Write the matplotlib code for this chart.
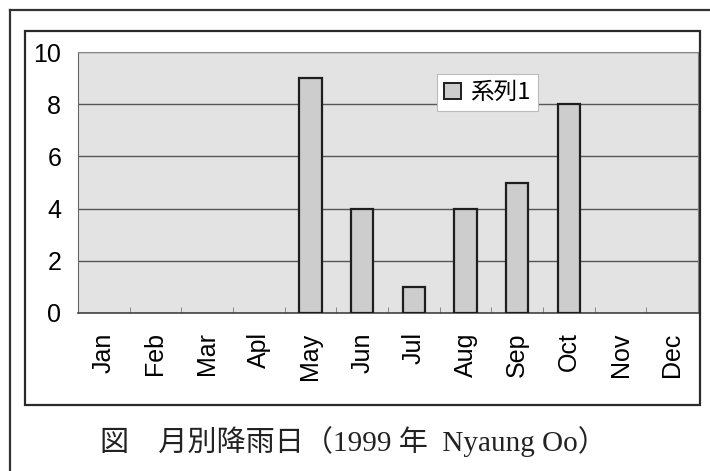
import matplotlib
matplotlib.use('Agg')
import matplotlib.pyplot as plt
from matplotlib.patches import Rectangle
from matplotlib.lines import Line2D
import numpy as np

months = ['Jan', 'Feb', 'Mar', 'Apl', 'May', 'Jun', 'Jul', 'Aug', 'Sep', 'Oct', 'Nov', 'Dec']
rain_days = [0, 0, 0, 0, 9, 4, 1, 4, 5, 8, 0, 0]
series_name = '系列1'
caption = '図\u3000月別降雨日（1999 年  Nyaung Oo）'

W, H = 710, 471
fig = plt.figure(figsize=(W / 100, H / 100), dpi=100)
fig.patch.set_facecolor('white')

def fx(px):
    return px / W

def fy(py):
    return 1 - py / H

# outer frame (runs off the right and bottom of the scan)
fig.add_artist(Line2D([fx(10), fx(712)], [fy(10), fy(10)], color='#333333', lw=1.6))
fig.add_artist(Line2D([fx(10), fx(10)], [fy(10), fy(473)], color='#333333', lw=1.6))

# chart area frame
fig.add_artist(Rectangle((fx(25), fy(405)), fx(700) - fx(25), fy(31) - fy(405),
                         transform=fig.transFigure, fill=False, ec='#2a2a2a', lw=1.6))

ax = fig.add_axes([fx(78), fy(313), fx(698) - fx(78), fy(52) - fy(313)])
ax.set_facecolor('#e3e3e3')

x = np.arange(len(months))
# empty months show no outline in the original
edge_widths = [1.6 if v > 0 else 0 for v in rain_days]
ax.bar(x, rain_days, width=0.43, color='#cdcdcd', edgecolor='#1e1e1e', linewidth=edge_widths,
       label=series_name, zorder=3)

ax.set_xlim(-0.5, len(months) - 0.5)
ax.set_ylim(0, 10)
ax.set_yticks([0, 2, 4, 6, 8, 10])
ax.set_yticklabels(['0', '2', '4', '6', '8', '10'], fontsize=18, family='Liberation Sans')
ax.tick_params(axis='y', length=0, pad=12)
ax.set_xticks(x)
ax.set_xticklabels(months, rotation=90, fontsize=18, family='Liberation Sans')
ax.tick_params(axis='x', length=0, pad=14)
ax.set_xticks(np.arange(0.5, len(months) - 0.5, 1), minor=True)
ax.tick_params(axis='x', which='minor', direction='in', length=4, color='#777777')

ax.yaxis.grid(True, color='#555555', linewidth=1.0, zorder=1)
ax.set_axisbelow(True)
for side in ['top', 'right']:
    ax.spines[side].set_color('#888888')
    ax.spines[side].set_linewidth(0.8)
ax.spines['left'].set_color('#666666')
ax.spines['bottom'].set_color('#444444')
ax.spines['bottom'].set_linewidth(1.2)

leg = ax.legend(loc='upper left', bbox_to_anchor=((437 - 78) / 620, (313 - 74) / 261),
                frameon=True, fancybox=False, handlelength=0.7, handleheight=0.7,
                handletextpad=0.4, borderpad=0.3, borderaxespad=0,
                prop={'family': ['Noto Sans CJK JP', 'DejaVu Sans'], 'size': 17})
leg.legend_handles[0].set_linewidth(1.4)
leg.legend_handles[0].set_edgecolor('#1e1e1e')
leg.get_frame().set_edgecolor('#bbbbbb')
leg.get_frame().set_linewidth(0.8)
leg.get_frame().set_facecolor('white')
leg.get_frame().set_alpha(1)

fig.text(fx(353), fy(442), caption, ha='center', va='center', fontsize=21,
         family=['Liberation Serif', 'Noto Sans CJK JP'], color='#222222')

fig.savefig('out.png', dpi=100)
